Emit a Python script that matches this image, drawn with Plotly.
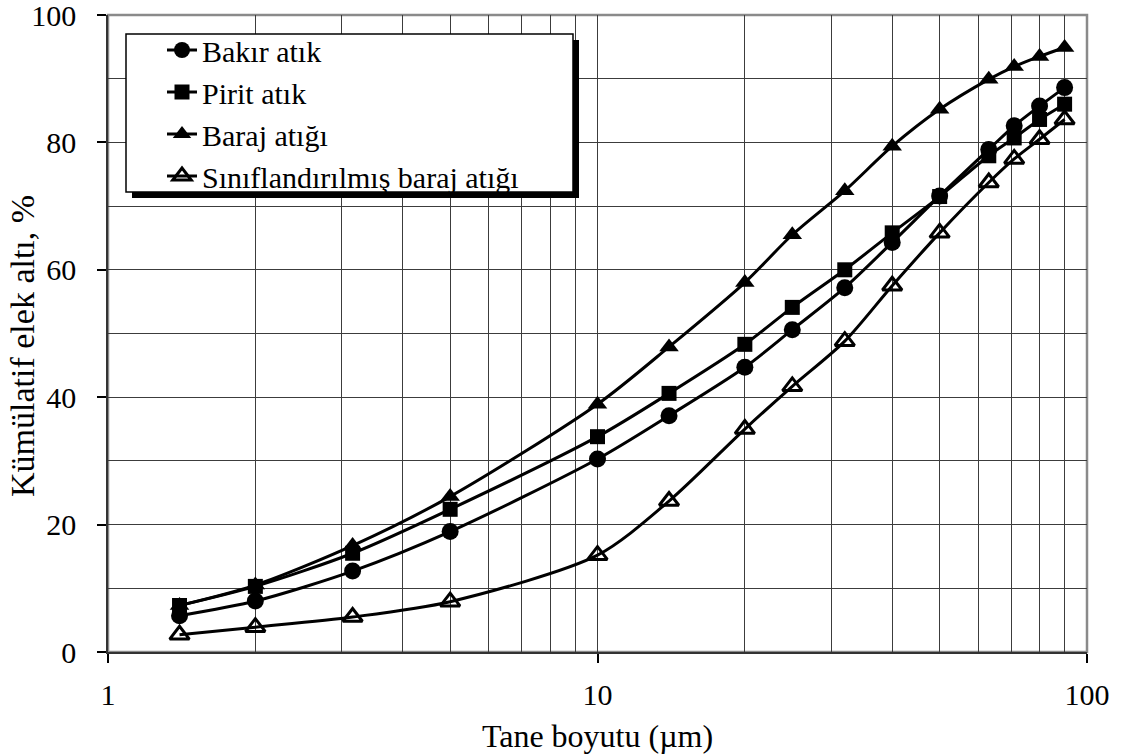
import plotly.graph_objects as go

# Particle size (µm) and cumulative undersize (%) for each tailing sample
size_um = [1.4, 2, 3.16, 5, 10, 14, 20, 25, 32, 40, 50, 63, 71, 80, 90]
bakir_atik = [5.7, 8.0, 12.7, 18.9, 30.3, 37.1, 44.7, 50.6, 57.2, 64.3, 71.6, 78.9, 82.6, 85.7, 88.6]
pirit_atik = [7.3, 10.3, 15.5, 22.4, 33.8, 40.6, 48.3, 54.1, 60.0, 65.8, 71.5, 77.9, 80.7, 83.6, 86.0]
baraj_atigi = [7.3, 10.5, 16.7, 24.4, 38.9, 47.9, 58.0, 65.5, 72.4, 79.4, 85.2, 89.9, 91.9, 93.5, 94.9]
siniflandirilmis = [2.7, 3.9, 5.5, 7.9, 15.2, 23.7, 35.0, 41.7, 48.8, 57.5, 65.8, 73.7, 77.4, 80.5, 83.6]

x_ticks = [1, 10, 100]
x_minor = [2, 3, 4, 5, 6, 7, 8, 9, 20, 30, 40, 50, 60, 70, 80, 90]

FONT = "Liberation Serif"
W, H = 1121, 756
L, R, T, B = 108, 34, 15, 104
PW, PH = W - L - R, H - T - B


def px_x(p):
    return (p - L) / PW


def px_y(p):
    return (H - B - p) / PH


series = [
    ("Bakır atık", bakir_atik, dict(symbol="circle", size=17, color="black")),
    ("Pirit atık", pirit_atik, dict(symbol="square", size=15, color="black")),
    ("Baraj atığı", baraj_atigi, dict(symbol="triangle-up", size=17, color="black")),
    ("Sınıflandırılmış baraj atığı", siniflandirilmis,
     dict(symbol="triangle-up-open", size=17, color="black", line=dict(width=3, color="black"))),
]

fig = go.Figure()
for name, vals, mk in series:
    fig.add_trace(go.Scatter(
        x=size_um, y=vals, name=name, mode="lines+markers",
        line=dict(color="black", width=3, shape="spline", smoothing=0.8),
        marker=mk, legendgroup="all",
    ))

fig.update_layout(
    width=W, height=H,
    margin=dict(l=L, r=R, t=T, b=B, autoexpand=False),
    paper_bgcolor="white", plot_bgcolor="white",
    font=dict(family=FONT, size=30, color="black"),
    showlegend=True,
    legend=dict(
        x=px_x(162), y=px_y(24), xanchor="left", yanchor="top",
        bgcolor="rgba(0,0,0,0)", borderwidth=0,
        font=dict(family=FONT, size=30, color="black"),
        tracegroupgap=0,
    ),
    shapes=[
        # legend drop shadow and frame
        dict(type="rect", xref="paper", yref="paper",
             x0=px_x(132), x1=px_x(579), y0=px_y(198), y1=px_y(40),
             fillcolor="black", line=dict(width=0), layer="above"),
        dict(type="rect", xref="paper", yref="paper",
             x0=px_x(126), x1=px_x(573), y0=px_y(192), y1=px_y(34),
             fillcolor="white", line=dict(color="black", width=1.5), layer="above"),
        # plot frame
        dict(type="rect", xref="paper", yref="paper", x0=0, x1=1, y0=0, y1=1,
             line=dict(color="#8a8a8a", width=2.5), layer="below"),
    ],
    annotations=[
        # y-axis title
        dict(text="Kümülatif elek altı, %", textangle=-90,
             xref="paper", yref="paper", x=px_x(22), y=px_y(346),
             xanchor="center", yanchor="middle", showarrow=False,
             font=dict(family=FONT, size=34, color="black")),
    ],
)

fig.update_xaxes(
    type="log", range=[0, 2], automargin=False,
    tickmode="array", tickvals=x_ticks, ticktext=[str(v) for v in x_ticks],
    ticks="outside", ticklen=9, tickwidth=1.5, tickcolor="black",
    ticklabelstandoff=6, ticklabeloverflow="allow",
    showgrid=True, gridcolor="#3c3c3c", gridwidth=1,
    minor=dict(tickmode="array", tickvals=x_minor, showgrid=True,
               gridcolor="#3c3c3c", gridwidth=1, ticks=""),
    showline=True, linecolor="#333", linewidth=1.5,
    zeroline=False,
    title=dict(text="Tane boyutu (µm)", font=dict(family=FONT, size=32), standoff=15),
    tickfont=dict(family=FONT, size=30),
)

fig.update_yaxes(
    range=[0, 100], automargin=False,
    tickmode="linear", tick0=0, dtick=20,
    ticks="outside", ticklen=9, tickwidth=1.5, tickcolor="black",
    ticklabelstandoff=15, ticklabeloverflow="allow",
    showgrid=True, gridcolor="#3c3c3c", gridwidth=1,
    minor=dict(dtick=10, showgrid=True, gridcolor="#3c3c3c", gridwidth=1, ticks=""),
    showline=True, linecolor="#333", linewidth=1.5,
    zeroline=False,
    tickfont=dict(family=FONT, size=30),
)

fig.write_html("out.html")
